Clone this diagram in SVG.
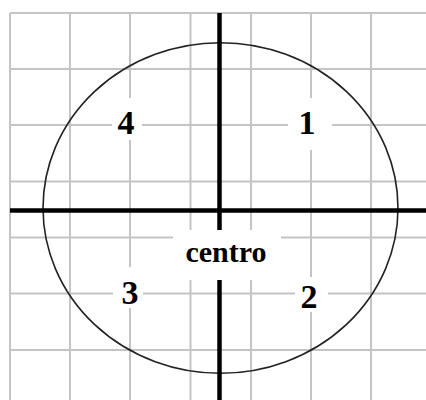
<svg xmlns="http://www.w3.org/2000/svg" width="426" height="400" viewBox="0 0 426 400">
<style>
.grid{stroke:#c4c4c4;stroke-width:2;fill:none}
.axis{stroke:#000;stroke-width:4.5;fill:none}
.bg{fill:#fff;stroke:none}
.num{font-family:"Liberation Serif","Times New Roman",serif;font-weight:bold;font-size:34px;text-anchor:middle;fill:#000}
.lbl{font-family:"Liberation Serif","Times New Roman",serif;font-weight:bold;font-size:30px;text-anchor:middle;fill:#000}
</style>
<rect width="426" height="400" fill="#fff"/>
<g id="grid" class="grid">
<path d="M10,13V400M70,13V400M130,13V400M190.5,13V400M251,13V400M311,13V400M371,13V400"/>
<path d="M10,13H426M10,69H426M10,125H426M10,181.5H426M10,237.5H426M10,293.5H426M10,350H426"/>
</g>
<g id="circle">
<ellipse cx="220.5" cy="208" rx="177.5" ry="165.3" fill="none" stroke="#222" stroke-width="1.6"/>
</g>
<g id="axes" class="axis">
<path d="M10,210.5H426"/>
<path d="M219.5,13V400"/>
</g>
<g id="q4"><rect class="bg" x="112" y="98" width="30" height="42"/><text class="num" x="126" y="134">4</text></g>
<g id="q1"><rect class="bg" x="288" y="98" width="44" height="52"/><text class="num" x="307" y="134">1</text></g>
<g id="q3"><rect class="bg" x="113" y="267" width="30" height="41"/><text class="num" x="130" y="304">3</text></g>
<g id="q2"><rect class="bg" x="295" y="277" width="33" height="35"/><text class="num" x="309" y="308">2</text></g>
<g id="centro"><rect class="bg" x="173" y="230" width="108" height="50"/><text class="lbl" x="226" y="262">centro</text></g>
</svg>
